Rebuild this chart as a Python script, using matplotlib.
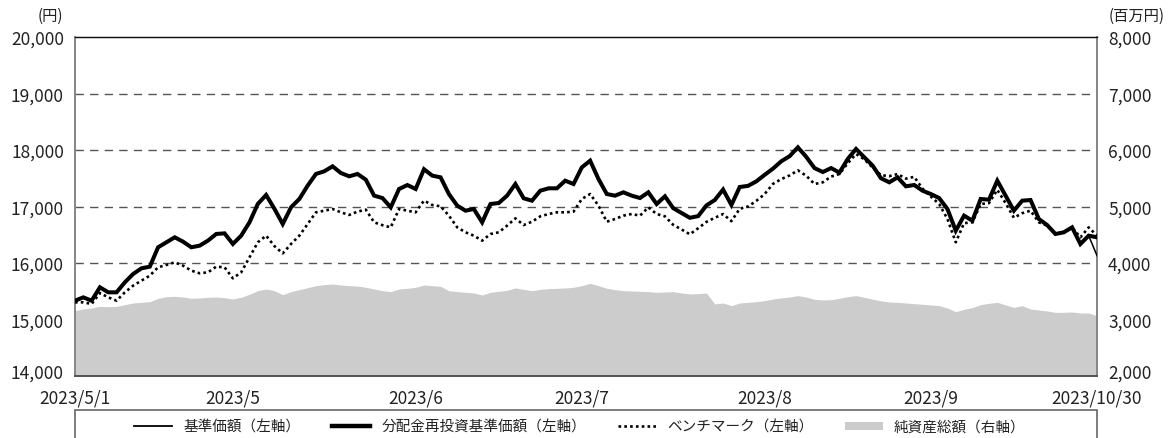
import matplotlib
matplotlib.use("Agg")
import matplotlib.pyplot as plt
import matplotlib.transforms as mtransforms
from matplotlib.patches import Rectangle
from matplotlib.lines import Line2D
from matplotlib.patches import Patch
import numpy as np

plt.rcParams['font.family'] = ['Noto Sans CJK JP', 'DejaVu Sans']

# 分配金再投資基準価額（左軸）
reinvest_nav = [
    15333, 15392, 15333, 15570, 15481, 15481, 15658, 15806, 15906, 15935,
    16278, 16366, 16455, 16378, 16278, 16307, 16396, 16514, 16525, 16337,
    16484, 16720, 17045, 17204, 16960, 16690, 16986, 17133, 17369, 17576,
    17623, 17711, 17593, 17534, 17576, 17475, 17192, 17150, 16985, 17310,
    17380, 17310, 17660, 17546, 17516, 17221, 17015, 16926, 16956, 16720,
    17044, 17062, 17192, 17398, 17145, 17103, 17280, 17322, 17322, 17457,
    17398, 17693, 17811, 17487, 17221, 17192, 17251, 17192, 17150, 17251,
    17044, 17180, 16970, 16885, 16800, 16830, 17020, 17115, 17300, 17027,
    17345, 17365, 17445, 17560, 17670, 17800, 17890, 18047, 17880, 17680,
    17610, 17680, 17600, 17841, 18018, 17870, 17723, 17500, 17428, 17516,
    17357, 17381, 17280, 17221, 17150, 16956, 16572, 16838, 16749, 17133,
    17121, 17457, 17192, 16926, 17103, 17115, 16779, 16672, 16513, 16543,
    16631, 16336, 16484, 16454,
]

# 基準価額（左軸）
nav = reinvest_nav[:-1] + [16130]

# ベンチマーク（左軸）
benchmark = [
    15304, 15304, 15275, 15469, 15392, 15333, 15481, 15599, 15688, 15776,
    15924, 15965, 16012, 15953, 15865, 15818, 15835, 15935, 15924, 15729,
    15835, 16100, 16366, 16484, 16300, 16170, 16337, 16484, 16690, 16897,
    16926, 16956, 16897, 16850, 16909, 16944, 16720, 16670, 16631, 16956,
    16926, 16897, 17104, 17027, 17003, 16838, 16631, 16543, 16484, 16395,
    16513, 16543, 16661, 16790, 16672, 16731, 16826, 16867, 16897, 16897,
    16909, 17133, 17221, 17015, 16731, 16779, 16838, 16867, 16838, 16985,
    16867, 16826, 16675, 16593, 16508, 16615, 16728, 16800, 16867, 16740,
    16960, 17000, 17100, 17220, 17400, 17485, 17550, 17640, 17545, 17398,
    17428, 17530, 17575, 17765, 17929, 17835, 17690, 17555, 17537, 17575,
    17493, 17525, 17316, 17177, 17045, 16780, 16366, 16705, 16720, 17044,
    17060, 17295, 17060, 16800, 16882, 16926, 16720, 16661, 16513, 16543,
    16631, 16454, 16631, 16484,
]

# 純資産総額（右軸, 百万円）
net_assets = [
    3157, 3186, 3204, 3233, 3227, 3233, 3263, 3292, 3304, 3316,
    3375, 3404, 3410, 3398, 3375, 3381, 3393, 3398, 3386, 3363,
    3393, 3446, 3511, 3540, 3510, 3440, 3493, 3528, 3564, 3599,
    3617, 3628, 3611, 3599, 3593, 3570, 3540, 3510, 3493, 3540,
    3552, 3570, 3611, 3599, 3587, 3510, 3493, 3481, 3469, 3434,
    3481, 3499, 3517, 3558, 3534, 3510, 3534, 3546, 3552, 3558,
    3570, 3599, 3640, 3599, 3552, 3528, 3510, 3505, 3499, 3493,
    3481, 3487, 3493, 3469, 3452, 3458, 3469, 3275, 3292, 3245,
    3292, 3304, 3316, 3333, 3363, 3381, 3398, 3422, 3398, 3357,
    3345, 3351, 3375, 3404, 3422, 3393, 3360, 3330, 3310, 3304,
    3292, 3281, 3269, 3257, 3245, 3204, 3139, 3180, 3210, 3263,
    3286, 3304, 3257, 3215, 3245, 3186, 3168, 3151, 3127, 3127,
    3133, 3115, 3115, 3068,
]

tick_index = [0, 19, 41, 61, 83, 103, 123]
tick_labels = ["2023/5/1", "2023/5", "2023/6", "2023/7", "2023/8", "2023/9", "2023/10/30"]

left_ticks = [14000, 15000, 16000, 17000, 18000, 19000, 20000]
right_ticks = [2000, 3000, 4000, 5000, 6000, 7000, 8000]

x = np.arange(len(reinvest_nav))

fig = plt.figure(figsize=(11.75, 4.39), dpi=100)
ax2 = fig.add_axes([75/1175, 1-377/439, 1022/1175, 339/439])
ax = ax2.twinx()
ax2.yaxis.tick_right()
ax.yaxis.tick_left()

# area + grid on ax2 (right axis)
ax2.set_ylim(2000, 8000)
ax2.set_xlim(0, len(x) - 1)
for gv in right_ticks[1:-1]:
    ax2.axhline(gv, color='#555555', lw=1.0, ls=(0, (6, 4.5)), zorder=1)
ax2.fill_between(x, 2000, net_assets, color='#cccccc', lw=0, zorder=2)

# lines on ax (left axis)
ax.set_ylim(14000, 20000)
ax.set_xlim(0, len(x) - 1)
ax.plot(x, benchmark, color='black', lw=1.9, ls=(0, (1, 1.2)), zorder=3)
ax.plot(x, reinvest_nav, color='black', lw=2.9, solid_joinstyle='miter', zorder=4)
ax.plot(x, nav, color='black', lw=1.1, zorder=5)

ax.patch.set_visible(False)

tick_color = '#222222'
ax.set_yticks(left_ticks)
ax.set_yticklabels([f"{v:,}" for v in left_ticks])
ax2.set_yticks(right_ticks)
ax2.set_yticklabels([f"{v:,}" for v in right_ticks])
ax.tick_params(axis='y', length=0, pad=8, labelsize=12.5, colors=tick_color)
ax2.tick_params(axis='y', length=0, pad=8, labelsize=12.5, colors=tick_color)

ax2.set_xticks(tick_index)
ax2.set_xticklabels(tick_labels)
ax2.tick_params(axis='x', direction='in', length=6, width=1.2, color='#555555',
                pad=9, labelsize=12.5, labelcolor=tick_color)
ax.tick_params(axis='x', length=0)

# lift the lowest y labels a little, as in the reference
lift = mtransforms.ScaledTranslation(0, 5/100, fig.dpi_scale_trans)
ax.get_yticklabels()[0].set_transform(ax.get_yticklabels()[0].get_transform() + lift)
ax2.get_yticklabels()[0].set_transform(ax2.get_yticklabels()[0].get_transform() + lift)

for a in (ax, ax2):
    a.spines['left'].set_color('#888888')
    a.spines['left'].set_linewidth(1.4)
    a.spines['right'].set_color('#888888')
    a.spines['right'].set_linewidth(1.4)
    a.spines['top'].set_color('#111111')
    a.spines['top'].set_linewidth(0.9)
    a.spines['bottom'].set_color('#555555')
    a.spines['bottom'].set_linewidth(1.4)

fig.text(50/1175, 1-16/439, "(円)", ha='center', va='center', fontsize=11, color=tick_color)
fig.text(1137/1175, 1-16/439, "(百万円)", ha='center', va='center', fontsize=11, color=tick_color)

# legend box
fig.patches.append(Rectangle((75/1175, -0.1), 1022/1175, 0.1 + (439-411)/439,
                             transform=fig.transFigure, fill=False,
                             edgecolor='#666666', lw=1.2))
handles = [
    Line2D([], [], color='black', lw=1.3),
    Line2D([], [], color='black', lw=3.2),
    Line2D([], [], color='black', lw=1.9, ls=(0, (1, 1.2))),
    Patch(facecolor='#cccccc', edgecolor='none'),
]
labels = ["基準価額（左軸）", "分配金再投資基準価額（左軸）", "ベンチマーク（左軸）", "純資産総額（右軸）"]
fig.legend(handles, labels, loc='center', bbox_to_anchor=(580/1175, 1-428/439),
           ncol=4, frameon=False, fontsize=10.5, handlelength=2.6, handleheight=0.5,
           handletextpad=0.75, columnspacing=2.2, labelcolor=tick_color)

fig.savefig("out.png", dpi=100)
